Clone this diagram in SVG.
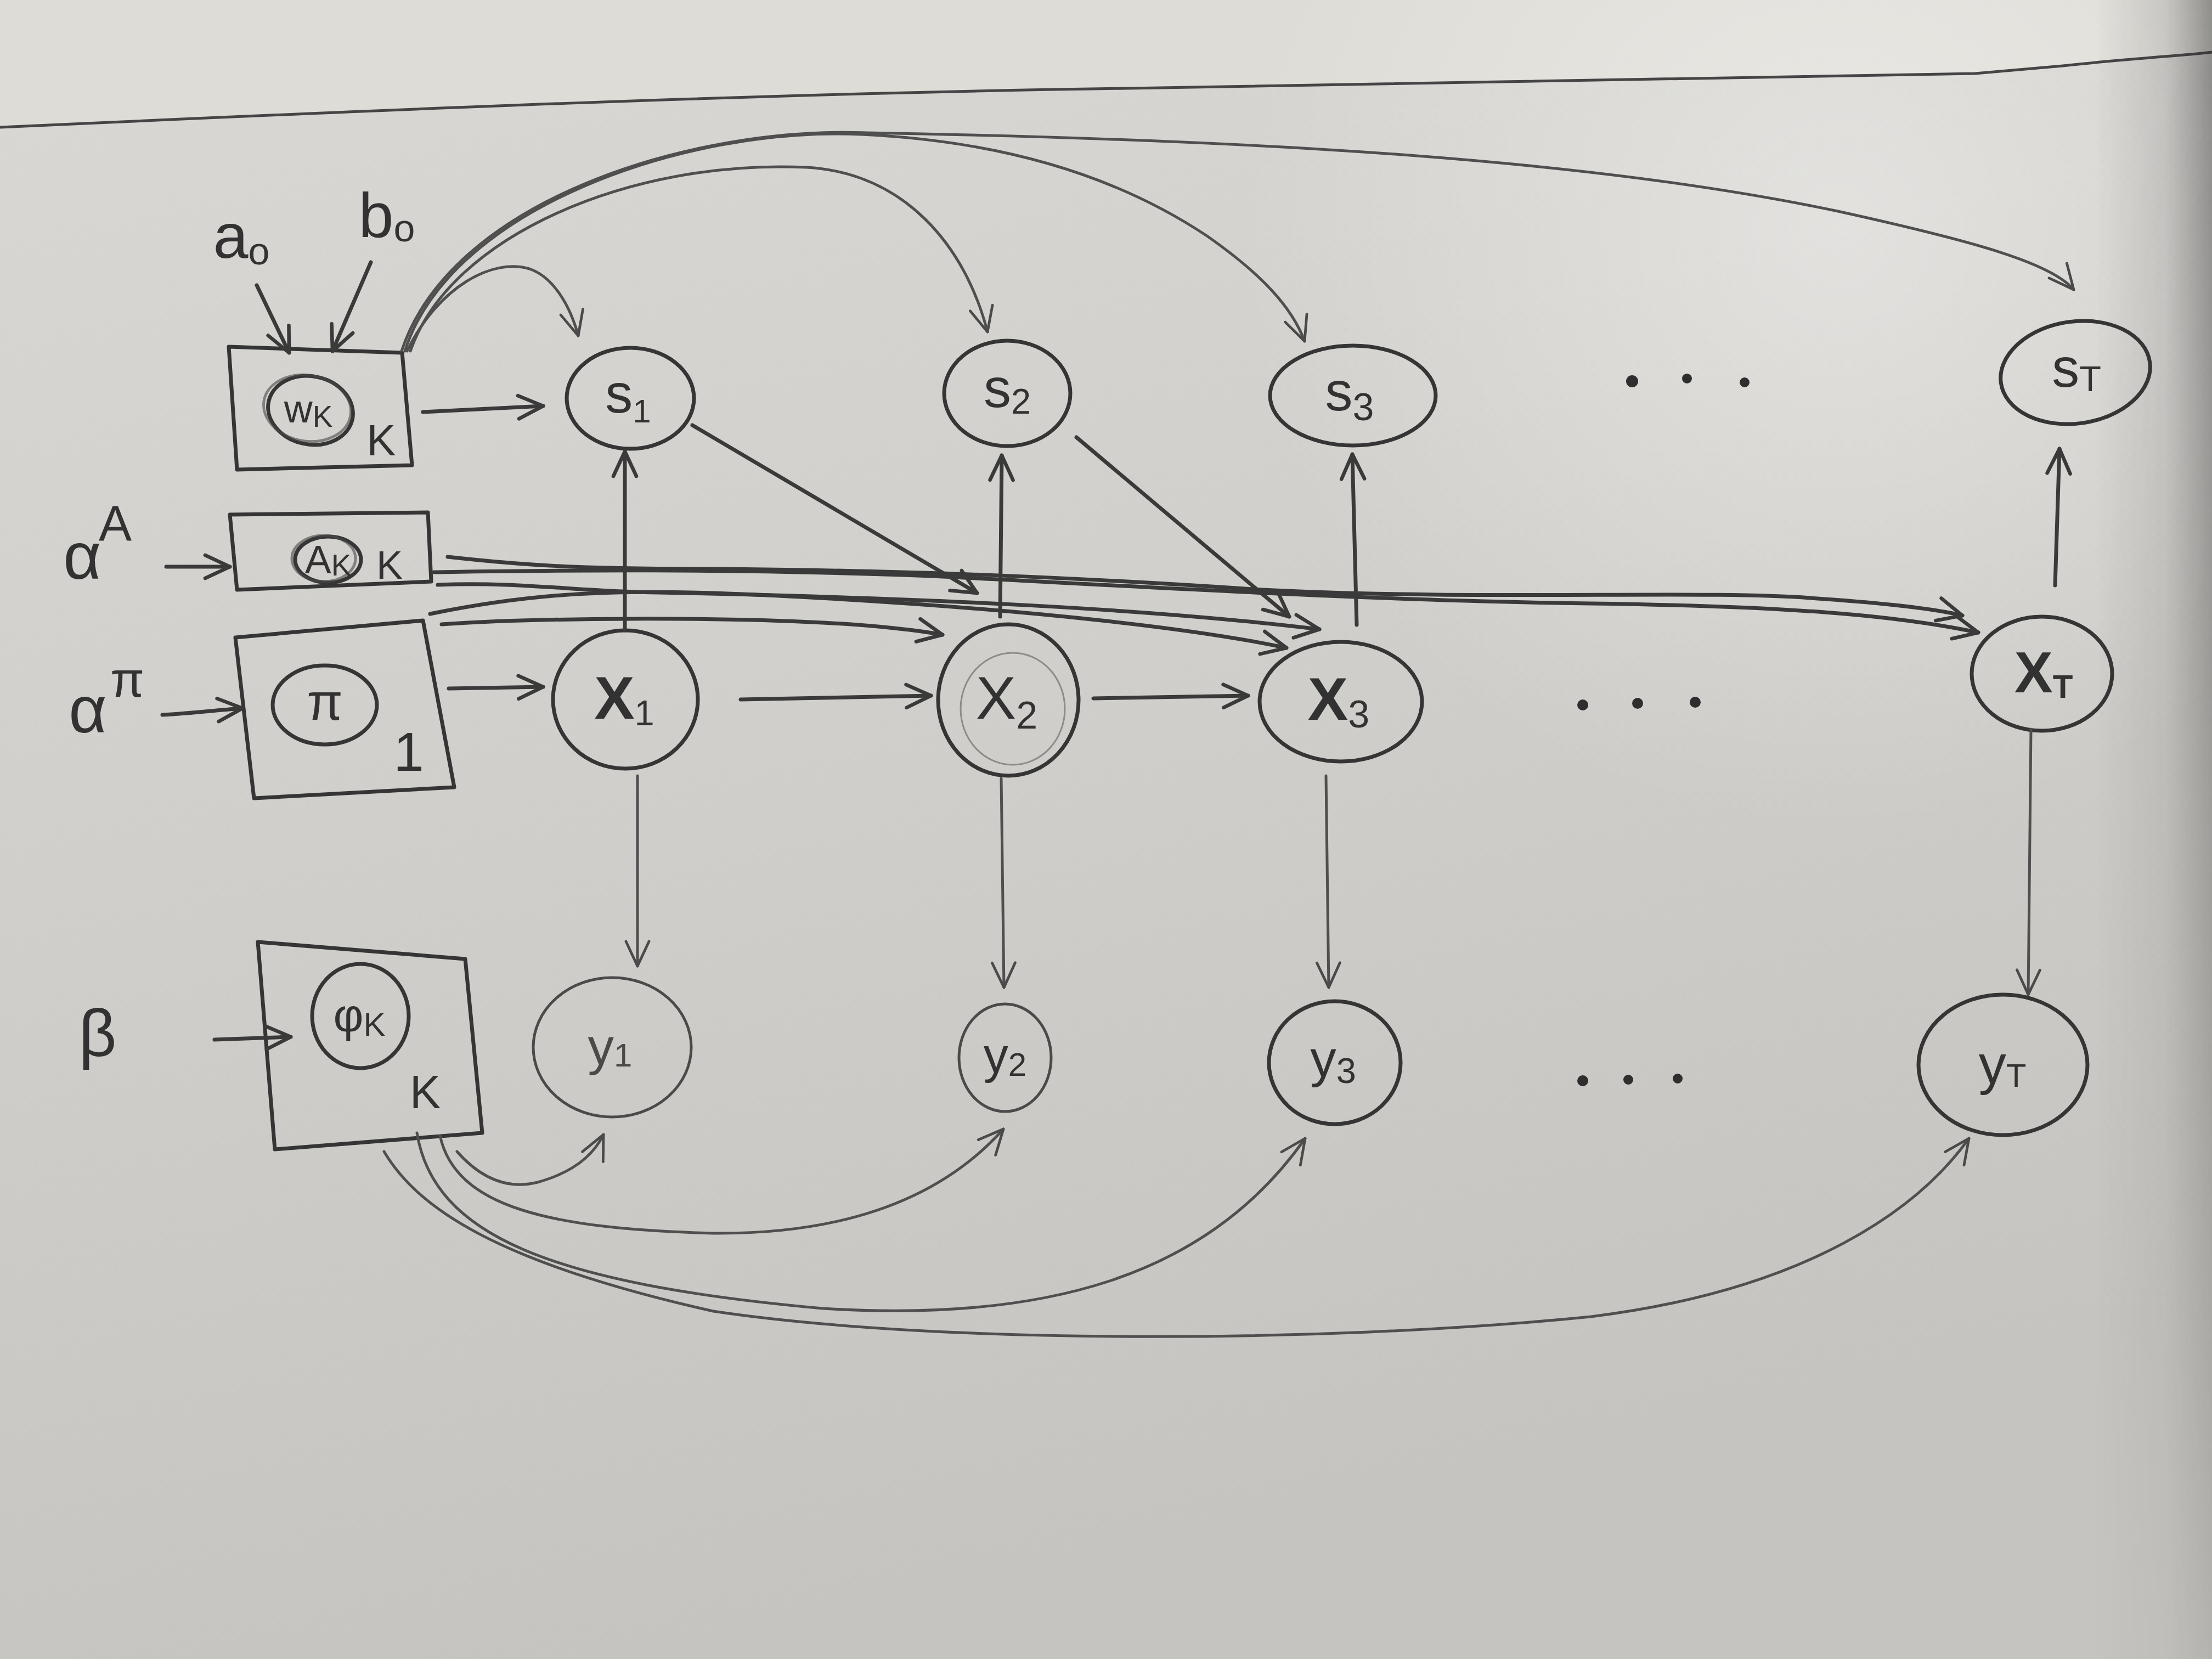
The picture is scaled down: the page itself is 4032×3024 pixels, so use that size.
<svg xmlns="http://www.w3.org/2000/svg" width="4032" height="3024" viewBox="0 0 4032 3024">
  <defs>
    <linearGradient id="paper" x1="0" y1="0" x2="0.3" y2="1">
      <stop offset="0" stop-color="#d9d8d4"/>
      <stop offset="0.5" stop-color="#d1cfcb"/>
      <stop offset="1" stop-color="#c6c4c0"/>
    </linearGradient>
    <radialGradient id="glow" cx="3350" cy="420" r="1100" gradientUnits="userSpaceOnUse">
      <stop offset="0" stop-color="#ffffff" stop-opacity="0.35"/>
      <stop offset="1" stop-color="#ffffff" stop-opacity="0"/>
    </radialGradient>
    <linearGradient id="edgeShade" x1="3820" y1="0" x2="4032" y2="0" gradientUnits="userSpaceOnUse">
      <stop offset="0" stop-color="#3a3a3a" stop-opacity="0"/>
      <stop offset="0.6" stop-color="#3a3a3a" stop-opacity="0.15"/>
      <stop offset="1" stop-color="#2a2a2a" stop-opacity="0.45"/>
    </linearGradient>
    <linearGradient id="fadeDown" x1="0" y1="0" x2="0" y2="1">
      <stop offset="0" stop-color="#fff"/>
      <stop offset="0.4" stop-color="#fff" stop-opacity="0.7"/>
      <stop offset="1" stop-color="#fff" stop-opacity="0.25"/>
    </linearGradient>
    <mask id="shadeMask" maskUnits="userSpaceOnUse" x="0" y="0" width="4032" height="3024">
      <rect x="3700" width="332" height="3024" fill="url(#fadeDown)"/>
    </mask>
    <marker id="arr" viewBox="0 0 20 20" refX="18" refY="10" markerWidth="60" markerHeight="60" markerUnits="userSpaceOnUse" orient="auto">
      <path d="M3,3 L18,10 L3,17" fill="none" stroke="#3a3a3a" stroke-width="2.2" stroke-linecap="round" stroke-linejoin="round"/>
    </marker>
    <marker id="arrThin" viewBox="0 0 20 20" refX="18" refY="10" markerWidth="60" markerHeight="60" markerUnits="userSpaceOnUse" orient="auto">
      <path d="M3,3 L18,10 L3,17" fill="none" stroke="#4a4a4a" stroke-width="1.6" stroke-linecap="round" stroke-linejoin="round"/>
    </marker>
    <style>
      .ink { fill: none; stroke: #353535; stroke-width: 7; stroke-linecap: round; stroke-linejoin: round; }
      .ink2 { fill: none; stroke: #4a4a4a; stroke-width: 5; stroke-linecap: round; stroke-linejoin: round; }
      .faint { fill: none; stroke: #8c8c8a; stroke-width: 3; }
      .edge { fill: none; stroke: #3a3a3a; stroke-width: 7; stroke-linecap: round; marker-end: url(#arr); }
      .edgeThin { fill: none; stroke: #4f4f4f; stroke-width: 5; stroke-linecap: round; marker-end: url(#arrThin); }
      .lbl { font-family: "Liberation Sans", "DejaVu Sans", sans-serif; fill: #323232; text-anchor: middle; }
      .dots { fill: #2e2e2e; }
    </style>
  </defs>

  <!-- paper and table surface -->
  <rect width="4032" height="3024" fill="url(#paper)"/>
  <path d="M0,0 H4032 V95 C4000,100 3900,105 3760,120 L3600,134 C3000,140 2500,150 2057,161 C1400,170 700,200 0,232 Z" fill="#dedcd6"/>
  <rect width="4032" height="3024" fill="url(#glow)"/>
  <path d="M0,232 C700,200 1400,170 2057,161 C2500,150 3000,140 3600,134 L3760,120 C3900,105 4000,100 4032,95" fill="none" stroke="#454545" stroke-width="5"/>
  <!-- shadow along the right edge, strongest near the top -->
  <rect x="3700" width="332" height="3024" fill="url(#edgeShade)" mask="url(#shadeMask)"/>

  <!-- hyperparameter labels -->
  <g id="a0">
    <text class="lbl" x="440" y="470" font-size="115">a<tspan font-size="70" dy="12">o</tspan></text>
  </g>
  <g id="b0">
    <text class="lbl" x="705" y="432" font-size="115">b<tspan font-size="70" dy="8">o</tspan></text>
  </g>
  <g id="alphaA">
    <text class="lbl" x="150" y="1055" font-size="120">α</text>
    <text class="lbl" x="210" y="985" font-size="90">A</text>
  </g>
  <g id="alphaPi">
    <text class="lbl" x="160" y="1335" font-size="120">α</text>
    <text class="lbl" x="232" y="1270" font-size="90">π</text>
  </g>
  <g id="beta">
    <text class="lbl" x="178" y="1925" font-size="120">β</text>
  </g>

  <!-- plates -->
  <g id="plateW">
    <path class="ink" d="M417,632 L733,643 L751,848 L432,856 Z"/>
    <ellipse class="ink" cx="566" cy="748" rx="78" ry="62" transform="rotate(12 566 748)"/>
    <ellipse class="ink2" cx="560" cy="744" rx="80" ry="60" transform="rotate(10 560 744)" stroke-opacity="0.6"/>
    <text class="lbl" x="562" y="770" font-size="72">w<tspan font-size="55" dy="8">K</tspan></text>
    <text class="lbl" x="695" y="830" font-size="80">K</text>
  </g>
  <g id="plateA">
    <path class="ink" d="M419,938 L780,934 L786,1060 L432,1075 Z"/>
    <ellipse class="ink" cx="598" cy="1020" rx="60" ry="42"/>
    <ellipse class="ink2" cx="590" cy="1018" rx="58" ry="42" stroke-opacity="0.6"/>
    <text class="lbl" x="598" y="1045" font-size="72">A<tspan font-size="55" dy="4">K</tspan></text>
    <text class="lbl" x="710" y="1055" font-size="72">K</text>
  </g>
  <g id="platePi">
    <path class="ink" d="M429,1162 L771,1131 L828,1435 L463,1455 Z"/>
    <ellipse class="ink" cx="592" cy="1285" rx="95" ry="72"/>
    <text class="lbl" x="592" y="1312" font-size="95">π</text>
    <text class="lbl" x="745" y="1405" font-size="100">1</text>
  </g>
  <g id="platePhi">
    <path class="ink" d="M470,1717 L848,1748 L879,2065 L501,2095 Z"/>
    <ellipse class="ink" cx="657" cy="1852" rx="88" ry="95"/>
    <text class="lbl" x="655" y="1880" font-size="85">φ<tspan font-size="60" dy="8">K</tspan></text>
    <text class="lbl" x="775" y="2020" font-size="85">K</text>
  </g>

  <!-- s row -->
  <g id="s1">
    <ellipse class="ink" cx="1149" cy="726" rx="116" ry="92"/>
    <text class="lbl" x="1145" y="752" font-size="100">s<tspan font-size="60" dy="18">1</tspan></text>
  </g>
  <g id="s2">
    <ellipse class="ink" cx="1836" cy="717" rx="115" ry="96"/>
    <text class="lbl" x="1836" y="742" font-size="100">s<tspan font-size="65" dy="12">2</tspan></text>
  </g>
  <g id="s3">
    <ellipse class="ink" cx="2466" cy="721" rx="151" ry="91"/>
    <text class="lbl" x="2460" y="748" font-size="100">s<tspan font-size="70" dy="18">3</tspan></text>
  </g>
  <g id="sT">
    <ellipse class="ink" cx="3783" cy="679" rx="137" ry="93" transform="rotate(-8 3783 679)"/>
    <text class="lbl" x="3785" y="705" font-size="100">s<tspan font-size="65" dy="8">T</tspan></text>
  </g>

  <!-- x row -->
  <g id="x1">
    <ellipse class="ink" cx="1140" cy="1275" rx="132" ry="126"/>
    <text class="lbl" x="1138" y="1310" font-size="110" font-weight="bold">X<tspan font-size="65" dy="12" font-weight="normal">1</tspan></text>
  </g>
  <g id="x2">
    <ellipse class="ink" cx="1838" cy="1276" rx="128" ry="138"/>
    <ellipse class="faint" cx="1846" cy="1292" rx="95" ry="102"/>
    <text class="lbl" x="1835" y="1310" font-size="110">X<tspan font-size="70" dy="18">2</tspan></text>
  </g>
  <g id="x3">
    <ellipse class="ink" cx="2444" cy="1279" rx="148" ry="109"/>
    <text class="lbl" x="2440" y="1312" font-size="110" font-weight="bold">X<tspan font-size="70" dy="14" font-weight="normal">3</tspan></text>
  </g>
  <g id="xT">
    <ellipse class="ink" cx="3722" cy="1228" rx="128" ry="104"/>
    <text class="lbl" x="3725" y="1262" font-size="105" font-weight="bold">X<tspan font-size="60" dy="10">T</tspan></text>
  </g>

  <!-- y row -->
  <g id="y1">
    <ellipse class="ink2" cx="1116" cy="1909" rx="144" ry="127"/>
    <text class="lbl" x="1112" y="1940" font-size="95" fill-opacity="0.85">y<tspan font-size="60" dy="4">1</tspan></text>
  </g>
  <g id="y2">
    <ellipse class="ink2" cx="1832" cy="1928" rx="84" ry="98"/>
    <text class="lbl" x="1832" y="1955" font-size="90">y<tspan font-size="60" dy="6">2</tspan></text>
  </g>
  <g id="y3">
    <ellipse class="ink" cx="2433" cy="1937" rx="120" ry="112"/>
    <text class="lbl" x="2430" y="1962" font-size="95">y<tspan font-size="65" dy="12">3</tspan></text>
  </g>
  <g id="yT">
    <ellipse class="ink" cx="3651" cy="1941" rx="154" ry="128"/>
    <text class="lbl" x="3650" y="1975" font-size="100">y<tspan font-size="60" dy="6">T</tspan></text>
  </g>

  <!-- ellipsis marks -->
  <g id="dotsS" class="dots">
    <circle cx="2975" cy="695" r="11"/><circle cx="3075" cy="690" r="9"/><circle cx="3180" cy="697" r="9"/>
  </g>
  <g id="dotsX" class="dots">
    <circle cx="2885" cy="1285" r="10"/><circle cx="2985" cy="1282" r="10"/><circle cx="3090" cy="1280" r="10"/>
  </g>
  <g id="dotsY" class="dots">
    <circle cx="2885" cy="1970" r="10"/><circle cx="2968" cy="1968" r="9"/><circle cx="3058" cy="1966" r="9"/>
  </g>

  <g id="connectors">
    <!-- hyperparameters into plates -->
    <path class="edge" d="M468,520 L527,643"/>
    <path class="edge" d="M676,478 L606,640"/>
    <path class="edge" d="M303,1033 L419,1033"/>
    <path class="edge" d="M296,1303 C350,1300 400,1294 442,1291"/>
    <path class="edge" d="M391,1895 L530,1890"/>

    <!-- plates to first nodes -->
    <path class="edge" d="M771,751 L990,740"/>
    <path class="edge" d="M818,1255 L990,1252"/>

    <!-- w plate to every s -->
    <path class="edgeThin" d="M742,640 C800,520 900,470 965,490 C1010,505 1040,560 1054,612"/>
    <path class="edgeThin" d="M748,640 C820,430 1150,290 1470,305 C1650,315 1760,450 1800,605"/>
    <path class="edgeThin" d="M738,640 C820,380 1250,230 1570,245 C1850,258 2050,330 2200,430 C2300,500 2355,560 2378,622"/>
    <path class="edgeThin" d="M732,640 C820,370 1250,230 1580,242 C2300,255 2900,290 3350,385 C3600,440 3740,480 3780,528"/>

    <!-- x to s -->
    <path class="edge" d="M1139,1149 L1139,823"/>
    <path class="edge" d="M1823,1124 L1826,830"/>
    <path class="edge" d="M2473,1139 L2465,828"/>
    <path class="edge" d="M3746,1067 L3754,818"/>

    <!-- s to next x -->
    <path class="edge" d="M1262,775 L1781,1081"/>
    <path class="edge" d="M1962,797 L2350,1124"/>

    <!-- x chain -->
    <path class="edge" d="M1350,1275 L1697,1268"/>
    <path class="edge" d="M1993,1273 L2275,1268"/>

    <!-- x to y -->
    <path class="edgeThin" d="M1162,1414 L1162,1761"/>
    <path class="edgeThin" d="M1825,1419 L1830,1800"/>
    <path class="edgeThin" d="M2417,1414 L2422,1800"/>
    <path class="edgeThin" d="M3702,1329 L3697,1813"/>

    <!-- transition lines into the x row -->
    <path class="edge" d="M816,1015 C950,1030 1050,1037 1300,1037 C1700,1040 2000,1055 2300,1075 C2700,1095 3100,1075 3300,1090 C3450,1100 3530,1110 3577,1122"/>
    <path class="edge" d="M791,1043 C1000,1040 1300,1035 1700,1050 C2100,1070 2500,1095 2900,1100 C3250,1105 3450,1120 3606,1153"/>
    <path class="edge" d="M798,1066 C950,1060 1050,1078 1200,1080 C1700,1090 2100,1110 2405,1147"/>
    <path class="edge" d="M784,1119 C950,1085 1100,1070 1400,1085 C1900,1110 2200,1150 2345,1181"/>
    <path class="edge" d="M805,1138 C1000,1125 1300,1125 1500,1135 C1600,1140 1680,1150 1718,1157"/>

    <!-- phi plate to every y -->
    <path class="edgeThin" d="M833,2099 Q900,2175 980,2155 Q1070,2130 1100,2068"/>
    <path class="edgeThin" d="M802,2070 C830,2200 1000,2240 1300,2248 C1550,2250 1720,2180 1829,2058"/>
    <path class="edgeThin" d="M760,2065 C790,2250 1000,2340 1500,2385 C1900,2410 2200,2330 2379,2075"/>
    <path class="edgeThin" d="M700,2099 C760,2200 900,2300 1300,2390 C1700,2450 2400,2450 2900,2400 C3300,2350 3500,2200 3589,2075"/>
  </g>
</svg>
